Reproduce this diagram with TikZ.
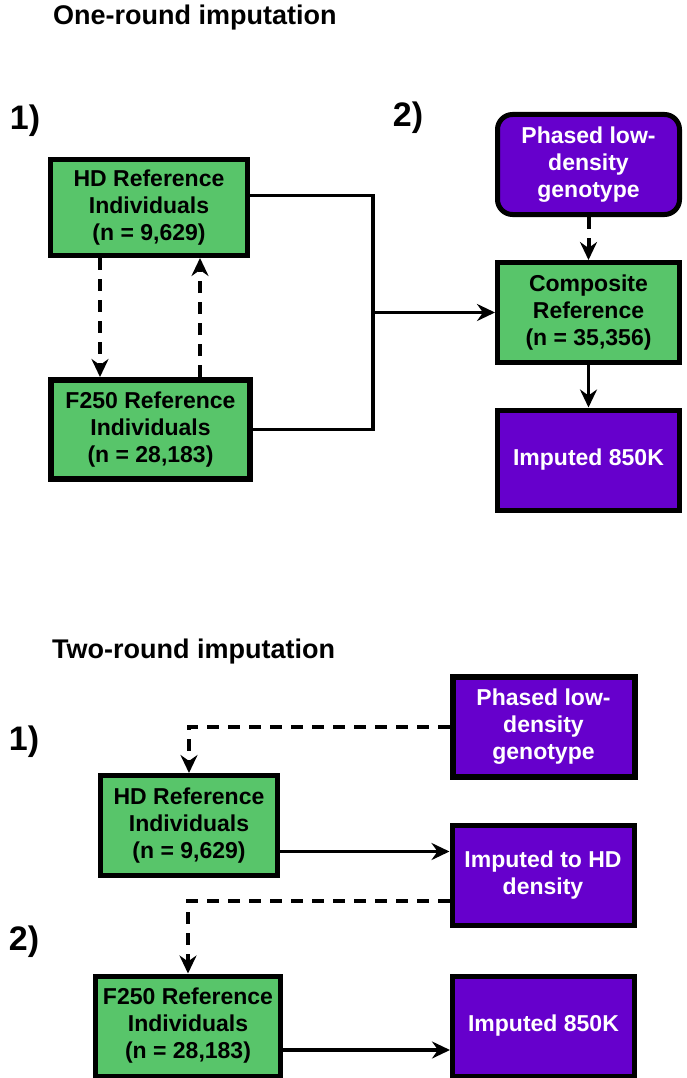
\documentclass[tikz,border=0pt]{standalone}
\usepackage{fontspec}
\setmainfont{Liberation Sans}
\usetikzlibrary{arrows.meta}
\definecolor{boxgreen}{RGB}{88,197,106}
\definecolor{boxpurple}{RGB}{102,0,204}
\tikzset{box/.style={draw=black, line width=5pt, align=center, inner sep=0pt,
      font=\fontsize{23}{27}\selectfont\bfseries,
      minimum width=182pt, minimum height=100pt}}
\tikzset{greenbox/.style={box, fill=boxgreen, text=black}}
\tikzset{purplebox/.style={box, fill=boxpurple, text=white}}
\tikzset{conn/.style={line width=3.5pt}}
\tikzset{arr/.style={conn, -{Stealth[length=18pt,width=17pt,inset=6pt]}}}
\tikzset{dasharr/.style={arr, line width=4pt, dash pattern=on 12pt off 9pt}}
\tikzset{title/.style={anchor=west, inner sep=0pt, font=\fontsize{27}{32}\selectfont\bfseries}}
\tikzset{step label/.style={inner sep=0pt, font=\fontsize{34}{40}\selectfont\bfseries}}

\begin{document}
\begin{tikzpicture}[x=1pt,y=-1pt]
    \useasboundingbox[fill=white] (0,0) rectangle (686,1078);

    % one-round
    \node[title] (titleA) at (53,18) {One-round imputation};
    \node[step label] (oneA) at (25,121) {1)};
    \node[step label] (twoA) at (408,118) {2)};

    \node[greenbox, minimum width=197pt, minimum height=96pt] (hdA) at (149,207.5) {HD Reference\\Individuals\\(n = 9,629)};
    \node[greenbox, minimum width=199pt, line width=6pt, minimum height=99pt] (ffA) at (150.5,429.5) {F250 Reference\\Individuals\\(n = 28,183)};
    \node[purplebox, rounded corners=15pt] (phA) at (588.5,164.5) {Phased low-\\density\\genotype};
    \node[greenbox] (compA) at (588.5,312.5) {Composite\\Reference\\(n = 35,356)};
    \node[purplebox] (impA) at (588.5,460) {Imputed 850K};
    \coordinate (jn) at (373,312.5);

    \draw[dasharr] ([xshift=-49pt]hdA.south) -- ([xshift=-49pt]hdA.south |- ffA.north);
    \draw[dasharr] ([xshift=51pt]hdA.south |- ffA.north) -- ([xshift=51pt]hdA.south);
    \draw[conn] ([yshift=12pt]hdA.east) -| (jn);
    \draw[conn] (ffA.east) -| (jn);
    \draw[arr] (jn) -- (compA.west);
    \draw[dasharr] (phA.south) -- (compA.north);
    \draw[arr] (compA.south) -- (impA.north);

    % two-round
    \node[title] (titleB) at (52,652) {Two-round imputation};
    \node[step label] (oneB) at (24,742) {1)};
    \node[step label] (twoB) at (24,942) {2)};

    \node[purplebox, line width=6pt] (phB) at (543.5,726.5) {Phased low-\\density\\genotype};
    \node[greenbox, minimum width=177pt] (hdB) at (189,825.5) {HD Reference\\Individuals\\(n = 9,629)};
    \node[purplebox] (midB) at (543,875.5) {Imputed to HD\\density};
    \node[greenbox, minimum width=185pt] (ffB) at (188,1026) {F250 Reference\\Individuals\\(n = 28,183)};
    \node[purplebox] (impB) at (543.5,1026) {Imputed 850K};

    \draw[dasharr] (phB.west) -| (hdB.north);
    \draw[arr] ([yshift=-26pt]hdB.east) -- ([yshift=-26pt]hdB.east -| midB.west);
    \draw[dasharr] ([yshift=-25pt]midB.west) -| (ffB.north);
    \draw[arr] ([yshift=-24pt]ffB.east) -- ([yshift=-24pt]ffB.east -| impB.west);
\end{tikzpicture}
\end{document}
